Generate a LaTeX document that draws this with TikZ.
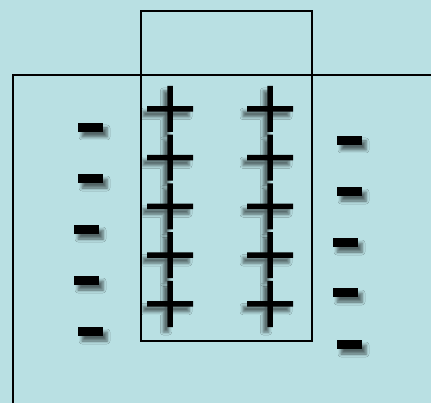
\documentclass[tikz,border=0pt]{standalone}
\usetikzlibrary{shadows.blur}
\definecolor{bg}{RGB}{185,224,227}
\begin{document}
\begin{tikzpicture}[x=1pt,y=-1pt,
  frame/.style={draw=black,line width=1.8pt},
  plussign/.style={fill=black, blur shadow={shadow xshift=-4pt, shadow yshift=-5pt, shadow blur radius=3pt, shadow opacity=55}},
  minussign/.style={fill=black, blur shadow={shadow xshift=4pt, shadow yshift=-5pt, shadow blur radius=3pt, shadow opacity=55}}]
\fill[bg] (0,0) rectangle (431,403);
\useasboundingbox (0,0) rectangle (431,403);
\draw[frame] (13,410) -- (13,75) -- (440,75);
\draw[frame] (141,11) rectangle (312,341);
\foreach \x in {170,270}
  \foreach \y in {109,157.75,206.5,255.25,304}
    \fill[plussign] (\x-23,\y-2.75) -- (\x-2.75,\y-2.75) -- (\x-2.75,\y-23) -- (\x+2.75,\y-23) -- (\x+2.75,\y-2.75) -- (\x+23,\y-2.75) -- (\x+23,\y+2.75) -- (\x+2.75,\y+2.75) -- (\x+2.75,\y+23) -- (\x-2.75,\y+23) -- (\x-2.75,\y+2.75) -- (\x-23,\y+2.75) -- cycle;
\foreach \x/\y in {90.5/127.5,90.5/178.5,86.5/229.5,86.5/280.5,90.5/331.5,349.5/140.5,349.5/191.5,345.5/242.5,345.5/292.5,349.5/344.5}
  \fill[minussign] (\x-12.5,\y-4.5) rectangle (\x+12.5,\y+4.5);
\end{tikzpicture}
\end{document}
